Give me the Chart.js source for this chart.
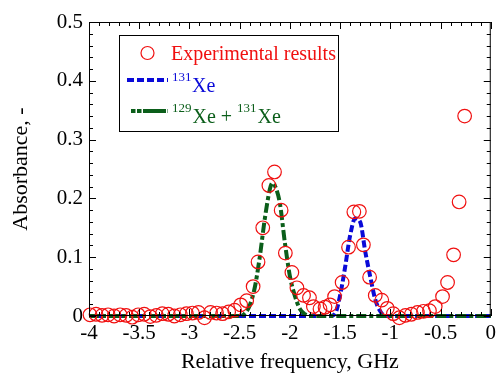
<!DOCTYPE html>
<html>
<head>
<meta charset="utf-8">
<script src="https://cdn.jsdelivr.net/npm/chart.js@4"></script>
<style>
  html, body { margin: 0; padding: 0; background: #fff; }
  #wrap { width: 501px; height: 375px; }
</style>
</head>
<body>
<div id="wrap"><canvas id="canvas-1" width="501" height="375"></canvas></div>
<script>
'use strict';

// experimental points (GHz, absorbance)
var expX = [-3.99,-3.93,-3.87,-3.81,-3.75,-3.69,-3.63,-3.57,-3.51,-3.45,-3.39,-3.33,-3.27,-3.21,-3.15,-3.09,-3.03,-2.97,-2.91,-2.85,-2.79,-2.73,-2.67,-2.61,-2.55,
  -2.49,-2.43,-2.366,-2.317,-2.27,-2.209,-2.153,-2.087,-2.045,-1.98,-1.93,-1.864,-1.805,-1.766,-1.70,-1.65,-1.60,-1.555,-1.48,-1.416,-1.363,-1.308,-1.268,-1.206,-1.15,-1.085,-1.03,
  -0.97,-0.91,-0.85,-0.79,-0.73,-0.67,-0.61,-0.553,-0.48,-0.43,-0.37,-0.315,-0.26];
var expY = [0.002,0.003,0.001,0.002,0.000,0.002,0.001,-0.002,0.002,0.003,-0.001,0.001,0.004,0.003,0.000,0.002,0.004,0.005,0.006,-0.003,0.006,0.005,0.004,0.007,0.010,
  0.019,0.026,0.050,0.092,0.150,0.222,0.245,0.180,0.107,0.074,0.048,0.035,0.031,0.016,0.012,0.015,0.019,0.033,0.057,0.117,0.177,0.178,0.121,0.066,0.035,0.027,0.013,
  0.004,-0.003,0.001,0.003,0.006,0.008,0.009,0.016,0.033,0.057,0.104,0.194,0.340];

// fitted 131Xe
var blueX = [-4,-1.6,-1.55,-1.5,-1.45,-1.4,-1.35,-1.3,-1.25,-1.2,-1.15,-1.1,-1.05,0];
var blueY = [0,0,0.004,0.035,0.083,0.137,0.166,0.160,0.110,0.067,0.028,0.008,0,0];

// fitted 129Xe + 131Xe
var greenX = [-4,-2.5,-2.45,-2.4,-2.35,-2.3,-2.25,-2.2,-2.175,-2.15,-2.1,-2.05,-2.0,-1.95,-1.9,-1.85,-1.8,0];
var greenY = [0,0,0.004,0.018,0.048,0.100,0.165,0.215,0.226,0.222,0.192,0.125,0.068,0.034,0.012,0.003,0,0];

var xTicks = [-4,-3.5,-3,-2.5,-2,-1.5,-1,-0.5,0];
var yTicks = [0,0.1,0.2,0.3,0.4,0.5];

var RED = '#f01010', BLUE = '#0a0ad8', GREEN = '#0b5e1a';
var SERIF = "'Liberation Serif', 'DejaVu Serif', serif";

function pts(xs, ys){ return xs.map(function(x, i){ return {x: x, y: ys[i]}; }); }
function lbl(v){ return String(Math.round(v * 10) / 10); }

// frame with inward ticks on all four sides
var framePlugin = {
  id: 'frame',
  afterDatasetsDraw: function(chart){
    var c = chart.ctx, a = chart.chartArea, sx = chart.scales.x, sy = chart.scales.y;
    c.save();
    c.strokeStyle = '#000'; c.lineWidth = 1;
    c.strokeRect(a.left + 0.5, a.top + 0.5, a.right - a.left - 1, a.bottom - a.top - 1);
    c.beginPath();
    for (var i = 0; i <= 40; i++) {
      var px = Math.round(sx.getPixelForValue(-4 + i * 0.1)) + 0.5;
      var len = (i % 5 === 0) ? 7 : 4;
      c.moveTo(px, a.bottom); c.lineTo(px, a.bottom - len);
      c.moveTo(px, a.top); c.lineTo(px, a.top + len);
    }
    for (var j = 0; j <= 25; j++) {
      var py = Math.round(sy.getPixelForValue(j * 0.02)) + 0.5;
      var l2 = (j % 5 === 0) ? 7 : 4;
      c.moveTo(a.left, py); c.lineTo(a.left + l2, py);
      c.moveTo(a.right, py); c.lineTo(a.right - l2, py);
    }
    c.stroke();
    c.restore();
  }
};

// legend box inside the plot, with superscript mass numbers
var legendPlugin = {
  id: 'boxLegend',
  afterDraw: function(chart){
    var c = chart.ctx;
    c.save();
    c.strokeStyle = '#000'; c.lineWidth = 1;
    c.strokeRect(119.5, 35.5, 219, 96);
    c.textBaseline = 'alphabetic';

    c.strokeStyle = RED; c.lineWidth = 1.2;
    c.beginPath(); c.arc(147.5, 53, 6.5, 0, Math.PI * 2); c.stroke();
    c.fillStyle = RED; c.font = '20px ' + SERIF;
    c.fillText('Experimental results', 171, 60);

    c.strokeStyle = BLUE; c.lineWidth = 4; c.setLineDash([7, 3]);
    c.beginPath(); c.moveTo(127, 80); c.lineTo(168, 80); c.stroke();
    c.fillStyle = BLUE;
    c.font = '13px ' + SERIF; c.fillText('131', 172, 81);
    c.font = '20px ' + SERIF; c.fillText('Xe', 192, 92);

    c.strokeStyle = GREEN; c.setLineDash([4.5, 1.5, 4.5, 1.5, 23, 1.5]);
    c.beginPath(); c.moveTo(131, 111); c.lineTo(168, 111); c.stroke();
    c.setLineDash([]);
    c.fillStyle = GREEN;
    var x = 172;
    c.font = '13px ' + SERIF; c.fillText('129', x, 112); x += c.measureText('129').width + 1;
    c.font = '20px ' + SERIF; c.fillText('Xe + ', x, 123); x += c.measureText('Xe + ').width;
    c.font = '13px ' + SERIF; c.fillText('131', x, 112); x += c.measureText('131').width + 1;
    c.font = '20px ' + SERIF; c.fillText('Xe', x, 123);
    c.restore();
  }
};

var ctx = document.getElementById('canvas-1');
var chart = new Chart(ctx, {
  type: 'scatter',
  data: {
    datasets: [
      {
        label: 'Experimental results',
        data: pts(expX, expY),
        showLine: false,
        pointRadius: 6.8,
        pointBorderWidth: 1.2,
        pointBorderColor: RED,
        pointBackgroundColor: 'rgba(0,0,0,0)',
        clip: false
      },
      {
        label: '129Xe + 131Xe',
        data: pts(greenX, greenY),
        showLine: true,
        borderColor: GREEN,
        borderWidth: 4,
        borderDash: [10, 3, 4, 3],
        cubicInterpolationMode: 'monotone',
        pointRadius: 0,
        clip: false
      },
      {
        label: '131Xe',
        data: pts(blueX, blueY),
        showLine: true,
        borderColor: BLUE,
        borderWidth: 4,
        borderDash: [7, 3],
        cubicInterpolationMode: 'monotone',
        pointRadius: 0,
        clip: false
      }
    ]
  },
  options: {
    responsive: false,
    animation: false,
    layout: { padding: { left: 0, right: 5, top: 22, bottom: 0 } },
    plugins: { legend: { display: false }, tooltip: { enabled: false } },
    scales: {
      x: {
        type: 'linear', min: -4, max: 0,
        grid: { display: false, drawTicks: false },
        border: { display: false },
        afterBuildTicks: function(s){ s.ticks = xTicks.map(function(v){ return {value: v}; }); },
        ticks: { color: '#000', padding: 5, autoSkip: false, maxRotation: 0, font: { family: SERIF, size: 21 }, callback: lbl },
        title: { display: true, text: 'Relative frequency, GHz', color: '#000', font: { family: SERIF, size: 22 }, padding: { top: 0, bottom: 0 } },
        afterFit: function(s){ s.height = 59; }
      },
      y: {
        min: 0, max: 0.5,
        grid: { display: false, drawTicks: false },
        border: { display: false },
        afterBuildTicks: function(s){ s.ticks = yTicks.map(function(v){ return {value: v}; }); },
        ticks: { color: '#000', padding: 6, font: { family: SERIF, size: 21 }, callback: lbl },
        title: { display: true, text: 'Absorbance, -', color: '#000', font: { family: SERIF, size: 22 }, padding: { top: 8, bottom: 0 } },
        afterFit: function(s){ s.width = 89; }
      }
    }
  },
  plugins: [framePlugin, legendPlugin]
});
</script>
</body>
</html>
